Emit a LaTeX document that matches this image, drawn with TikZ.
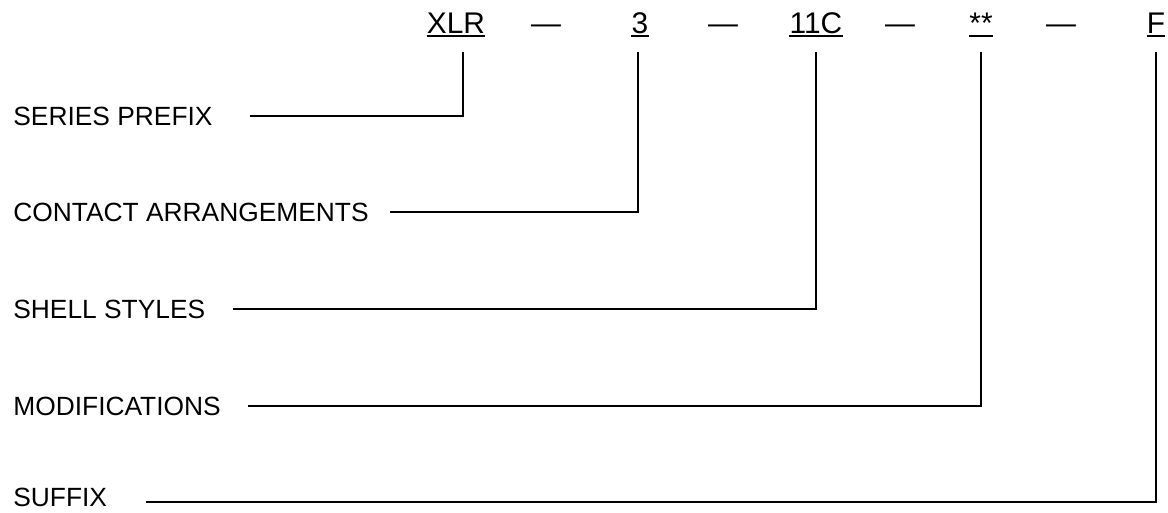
\documentclass[tikz,border=0pt]{standalone}
\usepackage{fontspec}
\setmainfont{Liberation Sans}
\begin{document}
\begin{tikzpicture}[x=0.02cm,y=-0.02cm,
    part/.style={font=\fontsize{17}{20}\selectfont,inner sep=0pt,anchor=base},
    field/.style={font=\fontsize{15}{18}\selectfont,inner sep=0pt,anchor=west},
    leader/.style={line width=1.5pt},
    uline/.style={line width=1.2pt}]
  \useasboundingbox (0,0) rectangle (1168,512);
  % part number
  \path
    (456,33) node[part] (xlr){XLR}
    (546,33) node[part] (d1){---}
    (640,33) node[part] (three){3}
    (723,33) node[part] (d2){---}
    (816,33) node[part] (elc){11C}
    (900,33) node[part] (d3){---}
    (981,33) node[part] (ast){**}
    (1061,33) node[part] (d4){---}
    (1156,33) node[part] (suf){F};
  \begin{scope}[uline]
    \draw ([yshift=-1.6pt]xlr.base west) -- ([yshift=-1.6pt]xlr.base east);
    \draw ([yshift=-1.6pt]three.base west) -- ([yshift=-1.6pt]three.base east);
    \draw ([yshift=-1.6pt]elc.base west) -- ([yshift=-1.6pt]elc.base east);
    \draw ([yshift=-1.6pt]ast.base west) -- ([yshift=-1.6pt]ast.base east);
    \draw ([yshift=-1.6pt]suf.base west) -- ([yshift=-1.6pt]suf.base east);
  \end{scope}
  % fields
  \path
    (13,116) node[field] (series){SERIES PREFIX}
    (13,212) node[field] (contact){CONTACT ARRANGEMENTS}
    (13,309) node[field] (shell){SHELL STYLES}
    (13,406) node[field] (mods){MODIFICATIONS}
    (13,497) node[field] (suffix){SUFFIX};
  \begin{scope}[leader]
    \draw ([xshift=0.74cm]series.east) -| ([xshift=0.14cm,yshift=-0.38cm]xlr.base);
    \draw ([xshift=0.42cm]contact.east) -| ([xshift=-0.04cm,yshift=-0.38cm]three.base);
    \draw ([xshift=0.54cm]shell.east) -| ([yshift=-0.38cm]elc.base);
    \draw ([xshift=0.54cm]mods.east) -| ([yshift=-0.38cm]ast.base);
    \draw ([xshift=0.78cm,yshift=-0.1cm]suffix.east) -| ([yshift=-0.38cm]suf.base);
  \end{scope}
\end{tikzpicture}
\end{document}
